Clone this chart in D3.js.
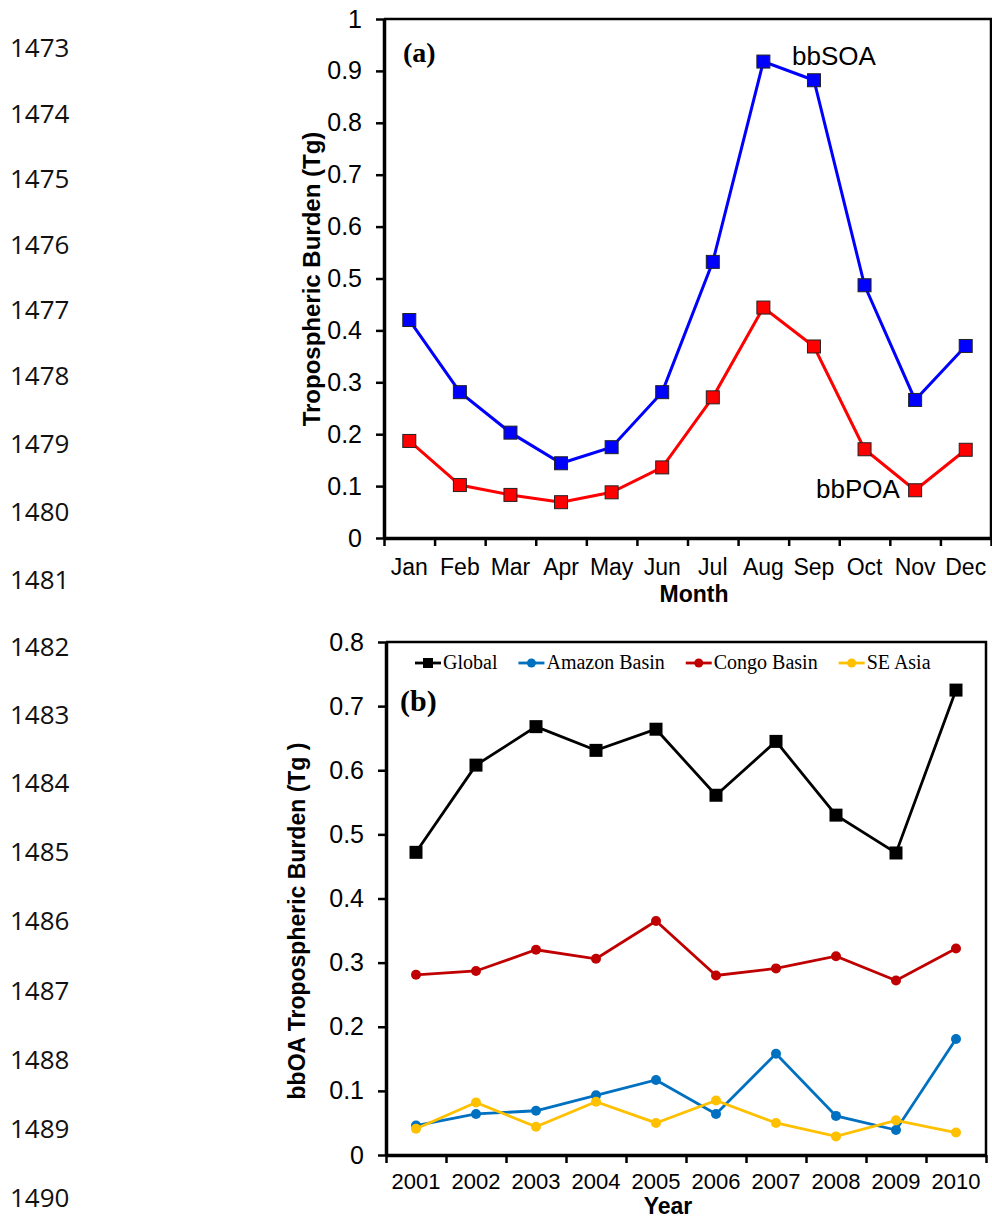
<!DOCTYPE html>
<html>
<head>
<meta charset="utf-8">
<script src="https://cdn.jsdelivr.net/npm/d3@7"></script>
<style>
  body { margin: 0; background: #fff; }
</style>
</head>
<body>
<div id="container"></div>
<script>
const WIDTH = 992,
      HEIGHT = 1221;

// panel (a) data
const months = ["Jan", "Feb", "Mar", "Apr", "May", "Jun", "Jul", "Aug", "Sep", "Oct", "Nov", "Dec"];
const bbSOA = [0.420, 0.281, 0.203, 0.144, 0.175, 0.281, 0.532, 0.918, 0.882, 0.487, 0.266, 0.370];
const bbPOA = [0.187, 0.102, 0.083, 0.069, 0.088, 0.136, 0.271, 0.444, 0.369, 0.171, 0.092, 0.170];
const yTicksA = [0, 0.1, 0.2, 0.3, 0.4, 0.5, 0.6, 0.7, 0.8, 0.9, 1];

// panel (b) data
const years = ["2001", "2002", "2003", "2004", "2005", "2006", "2007", "2008", "2009", "2010"];
const globalOA = [0.472, 0.608, 0.668, 0.631, 0.664, 0.561, 0.645, 0.530, 0.471, 0.725];
const amazonOA = [0.046, 0.064, 0.069, 0.093, 0.117, 0.064, 0.158, 0.061, 0.039, 0.181];
const congoOA  = [0.281, 0.287, 0.320, 0.306, 0.365, 0.280, 0.291, 0.310, 0.272, 0.322];
const seAsiaOA = [0.041, 0.082, 0.044, 0.083, 0.050, 0.085, 0.050, 0.029, 0.054, 0.035];
const yTicksB = [0, 0.1, 0.2, 0.3, 0.4, 0.5, 0.6, 0.7, 0.8];

// manuscript line numbers down the left margin
const lineNumbers = ["1473", "1474", "1475", "1476", "1477", "1478", "1479", "1480", "1481",
                     "1482", "1483", "1484", "1485", "1486", "1487", "1488", "1489", "1490"];

const SANS = "'Liberation Sans', Arial, sans-serif";
const SERIF = "'Liberation Serif', 'Times New Roman', serif";

const svg = d3.select("#container").append("svg")
    .attr("width", WIDTH).attr("height", HEIGHT)
    .style("display", "block");

svg.append("rect").attr("width", WIDTH).attr("height", HEIGHT).attr("fill", "#fff");

// line numbers
const lnY = d3.scaleLinear()
    .domain([1473, 1478, 1484, 1490])
    .range([47, 375, 782, 1197]);

svg.append("g")
    .selectAll("text")
    .data(lineNumbers)
    .join("text")
    .attr("x", 10)
    .attr("y", d => lnY(+d))
    .attr("dominant-baseline", "central")
    .attr("font-family", "'Open Sans', sans-serif")
    .attr("font-size", 26)
    .attr("fill", "#111")
    .text(d => d);

const fmt = d => String(+d.toFixed(1));

function drawFrame(p) {
    const { left, right, top, bottom, cats, yTicks, yMax } = p;

    const x = d3.scaleBand().domain(cats).range([left, right]);
    const xi = d3.scaleLinear().domain([0, cats.length]).range([left, right]);
    const y = d3.scaleLinear().domain([0, yMax]).range([bottom, top]);

    // top & right frame
    svg.append("path")
        .attr("d", `M${left},${top}H${right}V${bottom}`)
        .attr("fill", "none")
        .attr("stroke", "#000")
        .attr("stroke-width", 2.5);

    // y axis
    const gy = svg.append("g")
        .attr("transform", `translate(${left},0)`)
        .call(d3.axisLeft(y).tickValues(yTicks).tickSize(8).tickSizeOuter(0)
              .tickPadding(14).tickFormat(fmt));
    gy.select(".domain").attr("stroke-width", 3.5);
    gy.selectAll(".tick line").attr("stroke-width", 2.5);
    gy.selectAll("text")
        .attr("font-family", SANS)
        .attr("font-size", p.yFont)
        .attr("fill", "#000");

    // x axis line + boundary ticks
    const gx = svg.append("g")
        .attr("transform", `translate(0,${bottom})`)
        .call(d3.axisBottom(xi).tickValues(d3.range(cats.length + 1))
              .tickSize(8).tickSizeOuter(0).tickFormat(""));
    gx.select(".domain").attr("stroke-width", 3.5);
    gx.selectAll(".tick line").attr("stroke-width", 2.5);

    // category labels
    const gl = svg.append("g")
        .attr("transform", `translate(0,${bottom})`)
        .call(d3.axisBottom(x).tickSize(0).tickPadding(p.xPad));
    gl.select(".domain").remove();
    gl.selectAll("text")
        .attr("font-family", SANS)
        .attr("font-size", p.xFont)
        .attr("fill", "#000");

    // axis titles
    svg.append("text")
        .attr("x", p.xTitleX).attr("y", p.xTitleY)
        .attr("text-anchor", "middle")
        .attr("font-family", SANS).attr("font-weight", "bold")
        .attr("font-size", p.titleFont)
        .text(p.xTitle);

    svg.append("text")
        .attr("transform", `translate(${p.yTitleX},${p.yTitleY}) rotate(-90)`)
        .attr("text-anchor", "middle")
        .attr("font-family", SANS).attr("font-weight", "bold")
        .attr("font-size", p.yTitleFont)
        .text(p.yTitle);

    return { x, y };
}

// ---------- panel (a) ----------
const A = drawFrame({
    left: 384, right: 991, top: 19, bottom: 538,
    cats: months, yTicks: yTicksA, yMax: 1,
    yFont: 25, xFont: 23, xPad: 21, titleFont: 23, yTitleFont: 24,
    xTitle: "Month", xTitleX: 694, xTitleY: 602,
    yTitle: "Tropospheric Burden (Tg)", yTitleX: 320, yTitleY: 279
});

const seriesA = [
    { values: bbSOA, color: "#0000ff" },
    { values: bbPOA, color: "#ff0000" }
];

seriesA.forEach(s => {
    const cx = (d, i) => A.x(months[i]) + A.x.bandwidth() / 2;
    const line = d3.line().x(cx).y(d => A.y(d));
    svg.append("path")
        .datum(s.values)
        .attr("d", line)
        .attr("fill", "none")
        .attr("stroke", s.color)
        .attr("stroke-width", 3);
    svg.append("g")
        .selectAll("rect")
        .data(s.values)
        .join("rect")
        .attr("x", (d, i) => cx(d, i) - 6.5)
        .attr("y", d => A.y(d) - 6.5)
        .attr("width", 13).attr("height", 13)
        .attr("fill", s.color)
        .attr("stroke", "#222")
        .attr("stroke-width", 1);
});

svg.append("text")
    .attr("x", 403).attr("y", 62)
    .attr("font-family", SERIF).attr("font-weight", "bold")
    .attr("font-size", 28)
    .text("(a)");

svg.append("text")
    .attr("x", 792).attr("y", 65)
    .attr("font-family", SANS).attr("font-size", 26)
    .text("bbSOA");

svg.append("text")
    .attr("x", 816).attr("y", 498)
    .attr("font-family", SANS).attr("font-size", 26)
    .text("bbPOA");

// ---------- panel (b) ----------
const B = drawFrame({
    left: 386, right: 986, top: 642, bottom: 1155,
    cats: years, yTicks: yTicksB, yMax: 0.8,
    yFont: 25, xFont: 22, xPad: 18, titleFont: 23, yTitleFont: 23,
    xTitle: "Year", xTitleX: 668, xTitleY: 1214,
    yTitle: "bbOA Tropospheric Burden (Tg )", yTitleX: 305, yTitleY: 921
});

const seriesB = [
    { name: "Global", values: globalOA, color: "#000000", shape: "square" },
    { name: "Amazon Basin", values: amazonOA, color: "#0070c0", shape: "circle" },
    { name: "Congo Basin", values: congoOA, color: "#c00000", shape: "circle" },
    { name: "SE Asia", values: seAsiaOA, color: "#ffc000", shape: "circle" }
];

const drawOrder = [seriesB[0], seriesB[2], seriesB[1], seriesB[3]];

drawOrder.forEach(s => {
    const cx = (d, i) => B.x(years[i]) + B.x.bandwidth() / 2;
    const line = d3.line().x(cx).y(d => B.y(d));
    svg.append("path")
        .datum(s.values)
        .attr("d", line)
        .attr("fill", "none")
        .attr("stroke", s.color)
        .attr("stroke-width", 2.8);
    if (s.shape === "square") {
        svg.append("g").selectAll("rect")
            .data(s.values)
            .join("rect")
            .attr("x", (d, i) => cx(d, i) - 6.5)
            .attr("y", d => B.y(d) - 6.5)
            .attr("width", 13).attr("height", 13)
            .attr("fill", s.color);
    } else {
        svg.append("g").selectAll("circle")
            .data(s.values)
            .join("circle")
            .attr("cx", cx)
            .attr("cy", d => B.y(d))
            .attr("r", 5)
            .attr("fill", s.color);
    }
});

svg.append("text")
    .attr("x", 400).attr("y", 711)
    .attr("font-family", SERIF).attr("font-weight", "bold")
    .attr("font-size", 30)
    .text("(b)");

// legend
const legend = svg.append("g").attr("transform", "translate(415,663)");
let lx = 0;
seriesB.forEach(s => {
    const g = legend.append("g").attr("transform", `translate(${lx},0)`);
    g.append("line")
        .attr("x1", 0).attr("x2", 26)
        .attr("stroke", s.color).attr("stroke-width", 2.8);
    if (s.shape === "square") {
        g.append("rect").attr("x", 8).attr("y", -5).attr("width", 10).attr("height", 10)
            .attr("fill", s.color);
    } else {
        g.append("circle").attr("cx", 13).attr("r", 4.5).attr("fill", s.color);
    }
    const t = g.append("text")
        .attr("x", 28).attr("y", 6)
        .attr("font-family", SERIF).attr("font-size", 20)
        .text(s.name);
    lx += 28 + t.node().getComputedTextLength() + 21;
});
</script>
</body>
</html>
